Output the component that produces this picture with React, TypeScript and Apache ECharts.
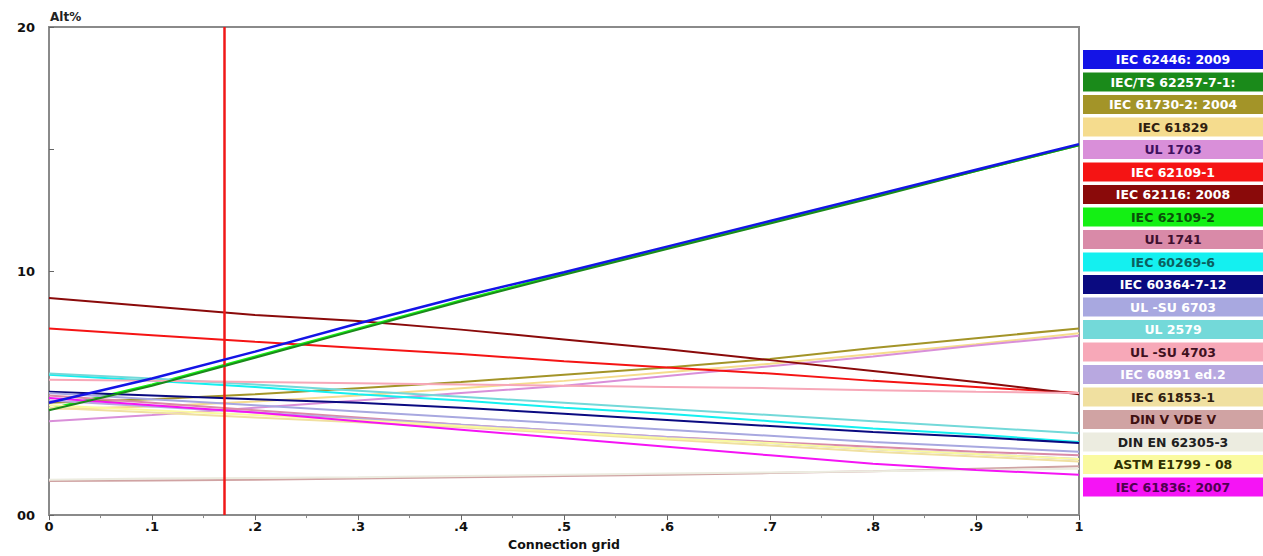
import React, { useEffect, useRef } from "react";
import * as echarts from "echarts";

const xValues = [0, 0.1, 0.2, 0.3, 0.4, 0.5, 0.6, 0.7, 0.8, 0.9, 1];
const xTickLabels = ["0", ".1", ".2", ".3", ".4", ".5", ".6", ".7", ".8", ".9", "1"];
const yTickLabels = ["00", "", "10", "", "20"];
const cursorX = [0.165];

const seriesNames = [
  "IEC 62446: 2009",
  "IEC/TS 62257-7-1:",
  "IEC 61730-2: 2004",
  "IEC 61829",
  "UL 1703",
  "IEC 62109-1",
  "IEC 62116: 2008",
  "IEC 62109-2",
  "UL 1741",
  "IEC 60269-6",
  "IEC 60364-7-12",
  "UL -SU 6703",
  "UL 2579",
  "UL -SU 4703",
  "IEC 60891 ed.2",
  "IEC 61853-1",
  "DIN V VDE V",
  "DIN EN 62305-3",
  "ASTM E1799 - 08",
  "IEC 61836: 2007",
];
const seriesColors = [
  "#1414e6", "#1a8a1a", "#a39428", "#f5dc8e", "#d98fd9", "#f51414", "#8a0a0a", "#14f014",
  "#d98aa8", "#14f0f0", "#0a0a80", "#a8a8e0", "#73d9d9", "#f7a8b8", "#b8a8e0", "#f0e0a0",
  "#d0a3a3", "#ecece0", "#fafaa0", "#f514f5",
];
const labelColors = [
  "#ffffff", "#ffffff", "#ffffff", "#302010", "#401060", "#ffffff", "#ffffff", "#0a500a",
  "#401030", "#0a6060", "#ffffff", "#ffffff", "#ffffff", "#401020", "#ffffff", "#302010",
  "#401010", "#202020", "#303000", "#500050",
];

const vIEC62446 = [4.6, 5.6, 6.7, 7.85, 8.95, 9.95, 11.0, 12.05, 13.1, 14.15, 15.2];
const vIEC62257 = [4.3, 5.3, 6.45, 7.6, 8.75, 9.85, 10.9, 11.95, 13.0, 14.1, 15.15];
const vIEC61730 = [4.6, 4.75, 4.95, 5.2, 5.45, 5.75, 6.05, 6.4, 6.85, 7.25, 7.65];
const vIEC61829 = [4.35, 4.45, 4.65, 4.9, 5.2, 5.5, 5.85, 6.2, 6.6, 7.0, 7.45];
const vUL1703 = [3.85, 4.1, 4.4, 4.7, 5.0, 5.3, 5.7, 6.1, 6.5, 6.95, 7.35];
const vIEC62109_1 = [7.65, 7.37, 7.1, 6.85, 6.6, 6.3, 6.05, 5.8, 5.5, 5.25, 5.0];
const vIEC62116 = [8.9, 8.55, 8.2, 7.95, 7.6, 7.2, 6.8, 6.35, 5.9, 5.45, 4.95];
const vIEC62109_2 = [4.35, 5.35, 6.5, 7.65, 8.8, 9.9, 10.95, 12.0, 13.05, 14.1, 15.15];
const vUL1741 = [4.9, 4.6, 4.3, 4.0, 3.7, 3.45, 3.2, 3.0, 2.8, 2.6, 2.45];
const vIEC60269 = [5.75, 5.5, 5.25, 4.95, 4.7, 4.4, 4.15, 3.85, 3.55, 3.3, 3.0];
const vIEC60364 = [5.05, 4.9, 4.75, 4.6, 4.4, 4.15, 3.9, 3.65, 3.4, 3.2, 2.95];
const vULSU6703 = [5.0, 4.75, 4.5, 4.25, 4.0, 3.75, 3.5, 3.25, 3.0, 2.8, 2.6];
const vUL2579 = [5.8, 5.6, 5.35, 5.1, 4.85, 4.6, 4.35, 4.1, 3.85, 3.6, 3.35];
const vULSU4703 = [5.55, 5.5, 5.45, 5.4, 5.35, 5.3, 5.25, 5.2, 5.12, 5.05, 5.0];
const vIEC60891 = [4.7, 4.45, 4.2, 3.95, 3.7, 3.45, 3.2, 2.95, 2.7, 2.5, 2.3];
const vIEC61853 = [4.4, 4.2, 4.0, 3.8, 3.6, 3.35, 3.1, 2.85, 2.6, 2.4, 2.2];
const vDINVVDE = [1.4, 1.42, 1.45, 1.5, 1.55, 1.6, 1.65, 1.72, 1.8, 1.9, 2.0];
const vDINEN62305 = [1.45, 1.5, 1.52, 1.55, 1.6, 1.65, 1.7, 1.75, 1.8, 1.85, 1.9];
const vASTM = [4.5, 4.3, 4.1, 3.9, 3.65, 3.4, 3.15, 2.95, 2.7, 2.5, 2.3];
const vIEC61836 = [4.8, 4.5, 4.2, 3.85, 3.5, 3.15, 2.8, 2.45, 2.1, 1.85, 1.65];

const seriesValues = [
  vIEC62446, vIEC62257, vIEC61730, vIEC61829, vUL1703, vIEC62109_1, vIEC62116, vIEC62109_2,
  vUL1741, vIEC60269, vIEC60364, vULSU6703, vUL2579, vULSU4703, vIEC60891, vIEC61853,
  vDINVVDE, vDINEN62305, vASTM, vIEC61836,
];

export default function App() {
  const ref = useRef<HTMLDivElement>(null);
  useEffect(() => {
    if (!ref.current) return;
    const chart = echarts.init(ref.current, null, { renderer: "svg" });
    const gridLeft = 49;
    const gridTop = 27;
    const legendLeft = 1083;
    const legendTop = 50;
    const legendStep = 22.5;
    const legendH = 19;

    const series: any[] = seriesNames.map((n, i) => ({
      name: n,
      type: "line",
      data: xValues.map((x, k) => [x, seriesValues[i][k]]),
      showSymbol: false,
      smooth: false,
      z: i === 0 ? 10 : i === 1 ? 9 : 3,
      lineStyle: { color: seriesColors[i], width: i === 0 ? 2.5 : 2 },
      itemStyle: { color: seriesColors[i] },
    }));
    series.push({
      name: "cursor",
      type: "line",
      data: [],
      markLine: {
        silent: true,
        symbol: "none",
        animation: false,
        label: { show: false },
        lineStyle: { color: "#f01818", width: 2.5, type: "solid" },
        data: cursorX.map((x) => ({ xAxis: x })),
      },
    });

    const legendGraphics: any[] = [];
    seriesNames.forEach((n, i) => {
      legendGraphics.push({
        type: "rect",
        left: legendLeft,
        top: legendTop + i * legendStep,
        shape: { width: 1263 - legendLeft, height: legendH },
        style: { fill: seriesColors[i] },
        silent: true,
      });
      legendGraphics.push({
        type: "text",
        x: legendLeft + (1263 - legendLeft) / 2,
        y: legendTop + i * legendStep + legendH / 2,
        style: {
          text: n,
          fill: labelColors[i],
          font: "bold 12.5px 'DejaVu Sans', sans-serif",
          align: "center",
          verticalAlign: "middle",
        },
        silent: true,
      });
    });
    legendGraphics.push({
      type: "text",
      left: 50,
      top: 11,
      style: { text: "Alt%", fill: "#222", font: "bold 12px 'DejaVu Sans', sans-serif" },
    });

    chart.setOption({
      animation: false,
      backgroundColor: "#ffffff",
      grid: {
        left: gridLeft,
        right: 1263 - 1079,
        top: gridTop,
        bottom: 556 - 517,
        show: true,
        borderColor: "#8a8a8a",
        borderWidth: 2,
        backgroundColor: "#ffffff",
      },
      xAxis: {
        type: "value",
        min: 0,
        max: 1,
        interval: 0.1,
        name: "Connection grid",
        nameLocation: "middle",
        nameGap: 22,
        nameTextStyle: { color: "#111", fontWeight: "bold", fontSize: 12.5, fontFamily: "'DejaVu Sans', sans-serif" },
        axisLine: { show: true, lineStyle: { color: "#8a8a8a", width: 2 } },
        axisTick: { show: true, length: 5, lineStyle: { color: "#666" } },
        minorTick: { show: true, splitNumber: 2, length: 3, lineStyle: { color: "#888" } },
        splitLine: { show: false },
        axisLabel: {
          color: "#111",
          fontWeight: "bold",
          fontSize: 13,
          fontFamily: "'DejaVu Sans', sans-serif",
          margin: 5,
          formatter: (v: number) => xTickLabels[Math.round(v * 10)] ?? "",
        },
      },
      yAxis: {
        type: "value",
        min: 0,
        max: 20,
        interval: 5,
        axisLine: { show: true, lineStyle: { color: "#8a8a8a", width: 2 } },
        axisTick: { show: true, inside: true, length: 5, lineStyle: { color: "#666" } },
        splitLine: { show: false },
        axisLabel: {
          color: "#111",
          fontWeight: "bold",
          fontSize: 13,
          fontFamily: "'DejaVu Sans', sans-serif",
          margin: 14,
          formatter: (v: number) => yTickLabels[Math.round(v / 5)] ?? "",
        },
      },
      graphic: legendGraphics,
      series,
    });
    return () => chart.dispose();
  }, []);
  return (
    <div
      ref={ref}
      style={{ position: "fixed", left: 0, top: 0, width: 1263, height: 556, background: "#fff" }}
    />
  );
}
